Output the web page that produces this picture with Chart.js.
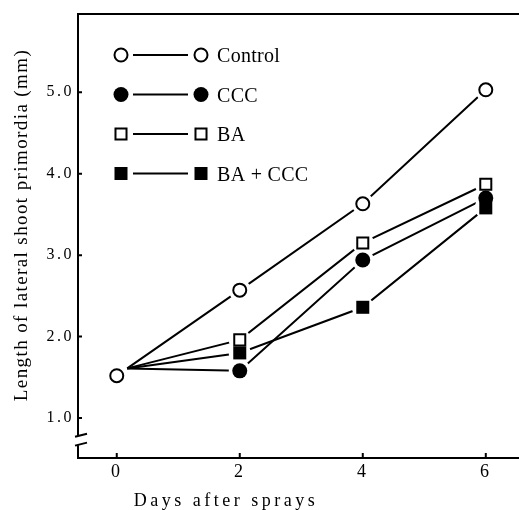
<!DOCTYPE html>
<html>
<head>
<meta charset="utf-8">
<script src="https://cdn.jsdelivr.net/npm/chart.js@4.4.1/dist/chart.umd.min.js"></script>
<style>
  html, body { margin: 0; padding: 0; background: #fff; }
  canvas { display: block; }
</style>
</head>
<body>
<canvas id="grafico" width="519" height="510"></canvas>
<script>
// dati (mm)
var giorni = [0, 2, 4, 6];
var controllo = [1.52, 2.57, 3.63, 5.03];
var ccc = [1.52, 1.58, 2.94, 3.70];
var ba = [1.52, 1.96, 3.15, 3.87];
var baCcc = [1.52, 1.80, 2.36, 3.58];
// nella figura tutte le linee partono dallo stesso punto, appena a destra del cerchio di giorno 0
var inizioLinee = { x: 0.17, y: 1.61 };

var etichette = ["Control", "CCC", "BA", "BA + CCC"];
var tickX = [0, 2, 4, 6];
var tickY = [1, 2, 3, 4, 5];
var titoloX = "Days after sprays";
var titoloY = "Length of lateral shoot primordia (mm)";

var serie = [controllo, ccc, ba, baCcc];
// simboli: cerchio vuoto, cerchio pieno, quadrato vuoto, quadrato pieno
var stili = [
  { forma: "circle", raggio: 6.5, riempimento: "#fff", bordo: 2 },
  { forma: "circle", raggio: 7.5, riempimento: "#000", bordo: 0 },
  { forma: "rect", raggio: 7.8, riempimento: "#fff", bordo: 2 },
  { forma: "rect", raggio: 9.2, riempimento: "#000", bordo: 0 }
];

function punti(valori, daIndice) {
  var p = [];
  for (var i = daIndice; i < giorni.length; i++) {
    p.push({ x: giorni[i], y: valori[i] });
  }
  return p;
}

var datasets = [];
for (var i = 0; i < serie.length; i++) {
  // il simbolo del giorno 0 e' uno solo (cerchio vuoto)
  var primo = (i === 0) ? 0 : 1;
  // linea
  datasets.push({
    label: etichette[i],
    data: [inizioLinee].concat(punti(serie[i], 1)),
    showLine: true,
    borderColor: "#000",
    borderWidth: 2,
    pointRadius: 0,
    tension: 0,
    order: 3
  });
  // alone bianco intorno ai simboli (interrompe le linee)
  datasets.push({
    label: etichette[i] + " alone",
    data: punti(serie[i], primo),
    showLine: false,
    pointStyle: "circle",
    pointRadius: 11,
    pointBackgroundColor: "#fff",
    pointBorderWidth: 0,
    order: 2
  });
  // simboli
  datasets.push({
    label: etichette[i],
    data: punti(serie[i], primo),
    showLine: false,
    pointStyle: stili[i].forma,
    pointRadius: stili[i].raggio,
    pointBackgroundColor: stili[i].riempimento,
    pointBorderColor: "#000",
    pointBorderWidth: stili[i].bordo,
    order: 1
  });
}

function disegnaSimbolo(c, stile, x, y) {
  c.beginPath();
  if (stile.forma === "circle") {
    c.arc(x, y, stile.raggio, 0, 2 * Math.PI);
  } else {
    var s = stile.raggio * Math.SQRT1_2;
    c.rect(x - s, y - s, 2 * s, 2 * s);
  }
  c.fillStyle = stile.riempimento;
  c.fill();
  if (stile.bordo > 0) {
    c.lineWidth = stile.bordo;
    c.strokeStyle = "#000";
    c.stroke();
  }
}

var pluginAssi = {
  id: "assi",
  beforeDraw: function(chart) {
    // numeri delle tacche un po' spaziati come nell'originale
    chart.ctx.letterSpacing = "2.5px";
  },
  beforeDatasetsDraw: function(chart) {
    var c = chart.ctx, a = chart.chartArea;
    var sx = chart.scales.x, sy = chart.scales.y;
    var yAlto = sy.getPixelForValue(0.79);
    var yBasso = sy.getPixelForValue(0.68);
    c.save();
    c.strokeStyle = "#000";
    c.lineWidth = 2;
    c.beginPath();
    // bordo superiore
    c.moveTo(a.left - 1, a.top);
    c.lineTo(a.right, a.top);
    // asse y con interruzione
    c.moveTo(a.left, a.top);
    c.lineTo(a.left, yAlto);
    c.moveTo(a.left, yBasso);
    c.lineTo(a.left, a.bottom);
    c.moveTo(a.left - 3, yAlto + 1.5);
    c.lineTo(a.left + 9, yAlto - 1.5);
    c.moveTo(a.left - 3, yBasso + 1.5);
    c.lineTo(a.left + 9, yBasso - 1.5);
    // tacche verso l'interno
    for (var i = 0; i < tickY.length; i++) {
      var y = sy.getPixelForValue(tickY[i]);
      c.moveTo(a.left, y);
      c.lineTo(a.left + 4, y);
    }
    for (var j = 0; j < tickX.length; j++) {
      var x = sx.getPixelForValue(tickX[j]);
      c.moveTo(x, a.bottom);
      c.lineTo(x, a.bottom - 5);
    }
    c.stroke();
    c.restore();
  },
  afterDraw: function(chart) {
    var c = chart.ctx, a = chart.chartArea;
    c.save();
    // legenda
    for (var i = 0; i < etichette.length; i++) {
      var y = a.top + 41 + i * 39.5;
      c.beginPath();
      c.moveTo(a.left + 55, y);
      c.lineTo(a.left + 110, y);
      c.lineWidth = 1.8;
      c.strokeStyle = "#000";
      c.stroke();
      disegnaSimbolo(c, stili[i], a.left + 43, y);
      disegnaSimbolo(c, stili[i], a.left + 123, y);
      c.fillStyle = "#000";
      c.font = '20px "Liberation Serif"';
      c.letterSpacing = "0.3px";
      c.textAlign = "left";
      c.textBaseline = "alphabetic";
      c.fillText(etichette[i], a.left + 139, y + 7);
    }
    // titoli degli assi
    c.fillStyle = "#000";
    c.textAlign = "center";
    c.textBaseline = "alphabetic";
    c.font = '18px "Liberation Serif"';
    c.letterSpacing = "3.5px";
    c.fillText(titoloX, 226, 506);
    c.translate(27, 225);
    c.rotate(-Math.PI / 2);
    c.font = '19px "Liberation Serif"';
    c.letterSpacing = "1.4px";
    c.fillText(titoloY, 0, 0);
    c.restore();
  }
};

var grafico = new Chart(document.getElementById("grafico"), {
  type: "scatter",
  data: { datasets: datasets },
  options: {
    responsive: false,
    animation: false,
    events: [],
    layout: { autoPadding: false, padding: { top: 14, left: 0, right: 0, bottom: 0 } },
    plugins: {
      legend: { display: false },
      tooltip: { enabled: false }
    },
    scales: {
      x: {
        type: "linear",
        min: -0.63,
        max: 6.54,
        grid: { display: false, drawTicks: false },
        border: { display: true, color: "#000", width: 2 },
        ticks: { font: { family: "Liberation Serif", size: 18 }, color: "#000", padding: 3 },
        afterBuildTicks: function(scala) {
          scala.ticks = tickX.map(function(v) { return { value: v }; });
        },
        afterFit: function(scala) {
          scala.height = 52;
          scala.paddingLeft = 0;
          scala.paddingRight = 0;
        }
      },
      y: {
        type: "linear",
        min: 0.51,
        max: 5.96,
        grid: { display: false, drawTicks: false },
        border: { display: false },
        ticks: {
          font: { family: "Liberation Serif", size: 16 },
          color: "#000",
          padding: 4,
          callback: function(v) { return v.toFixed(1); }
        },
        afterBuildTicks: function(scala) {
          scala.ticks = tickY.map(function(v) { return { value: v }; });
        },
        afterFit: function(scala) {
          scala.width = 78;
          scala.paddingTop = 0;
          scala.paddingBottom = 0;
        }
      }
    }
  },
  plugins: [pluginAssi]
});
</script>
</body>
</html>
